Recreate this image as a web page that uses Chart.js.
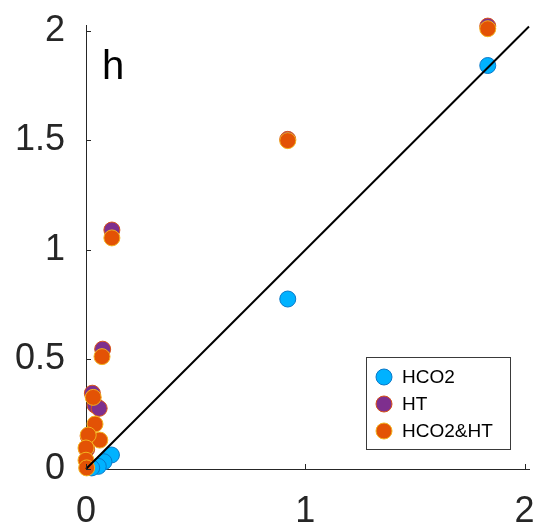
<!DOCTYPE html>
<html>
<head>
<meta charset="utf-8">
<script src="https://cdn.jsdelivr.net/npm/chart.js@4"></script>
<style>
  html, body { margin: 0; padding: 0; background: #fff; }
  #wrap { width: 538px; height: 527px; }
</style>
</head>
<body>
<div id="wrap"><canvas id="c" width="538" height="527"></canvas></div>
<script>
const HCO2_X = [1.832, 0.92, 0.116, 0.082, 0.056, 0.026];
const HCO2_Y = [1.842, 0.776, 0.064, 0.033, 0.012, 0.005];

const HT_X = [1.832, 0.92, 0.118, 0.076, 0.029, 0.041, 0.06, 0.01, 0.003];
const HT_Y = [2.022, 1.505, 1.091, 0.547, 0.346, 0.292, 0.277, 0.15, 0.09];

const BOTH_X = [1.832, 0.92, 0.118, 0.073, 0.033, 0.041, 0.063, 0.01, 0.0, 0.0, 0.003];
const BOTH_Y = [2.01, 1.499, 1.055, 0.513, 0.327, 0.205, 0.132, 0.155, 0.096, 0.04, 0.005];

const DIAG = [0, 2.02];
const X_MAX = 2.02, Y_MAX = 2.027;
const X_TICKS = [0, 1, 2];
const Y_TICKS = [0, 0.5, 1, 1.5, 2];

const pts = (xs, ys) => xs.map((x, i) => ({ x: x, y: ys[i] }));
const INK = '#262626';
const FONT = '"Liberation Sans", Arial, sans-serif';

// MATLAB-style inward ticks, panel letter and boxed legend
const extras = {
    id: 'extras',
    afterDraw(chart) {
        const ctx = chart.ctx, a = chart.chartArea;
        const xs = chart.scales.x, ys = chart.scales.y;
        ctx.save();
        ctx.strokeStyle = INK;
        ctx.lineWidth = 1;
        ctx.beginPath();
        xs.ticks.forEach(t => {
            const px = Math.round(xs.getPixelForValue(t.value)) + 0.5;
            ctx.moveTo(px, a.bottom); ctx.lineTo(px, a.bottom - 5);
        });
        ys.ticks.forEach(t => {
            const py = Math.round(ys.getPixelForValue(t.value)) + 0.5;
            ctx.moveTo(a.left, py); ctx.lineTo(a.left + 5, py);
        });
        ctx.stroke();

        ctx.fillStyle = '#000';
        ctx.font = '40px ' + FONT;
        ctx.textBaseline = 'alphabetic';
        ctx.fillText('h', 102, 79);

        // legend
        const bx = 366.5, by = 357.5, bw = 144, bh = 92;
        ctx.fillStyle = '#fff';
        ctx.fillRect(bx, by, bw, bh);
        ctx.strokeStyle = '#3a3a3a';
        ctx.strokeRect(bx, by, bw, bh);
        ctx.font = '19px ' + FONT;
        ctx.textBaseline = 'middle';
        chart.data.datasets.filter(d => d.label).forEach((d, i) => {
            const cy = 377 + i * 27;
            ctx.beginPath();
            ctx.arc(384, cy, 8, 0, Math.PI * 2);
            ctx.fillStyle = d.backgroundColor;
            ctx.fill();
            ctx.lineWidth = 1;
            ctx.strokeStyle = d.borderColor;
            ctx.stroke();
            ctx.fillStyle = '#000';
            ctx.fillText(d.label, 402, cy + 1);
        });
        ctx.restore();
    }
};

new Chart(document.getElementById('c'), {
    type: 'scatter',
    data: {
        datasets: [
            {
                label: 'HCO2',
                data: pts(HCO2_X, HCO2_Y),
                backgroundColor: '#00B2FF',
                borderColor: '#0a78c8',
                borderWidth: 1,
                pointRadius: 8,
                order: 3,
                clip: false
            },
            {
                label: 'HT',
                data: pts(HT_X, HT_Y),
                backgroundColor: '#7E2F8E',
                borderColor: '#D95319',
                borderWidth: 1,
                pointRadius: 8,
                order: 2,
                clip: false
            },
            {
                label: 'HCO2&HT',
                data: pts(BOTH_X, BOTH_Y),
                backgroundColor: '#E35205',
                borderColor: '#F2B220',
                borderWidth: 1,
                pointRadius: 8,
                order: 1,
                clip: false
            },
            {
                type: 'line',
                data: pts(DIAG, DIAG),
                borderColor: '#000',
                borderWidth: 2,
                pointRadius: 0,
                order: 0,
                clip: false
            }
        ]
    },
    options: {
        responsive: false,
        animation: false,
        layout: { padding: { top: 25, right: 6, left: 0, bottom: 0 } },
        plugins: { legend: { display: false }, tooltip: { enabled: false } },
        scales: {
            x: {
                type: 'linear',
                min: 0, max: X_MAX,
                afterBuildTicks: s => { s.ticks = X_TICKS.map(v => ({ value: v })); },
                afterFit: s => { s.height = 58; s.paddingLeft = 0; s.paddingRight = 0; },
                grid: { display: false },
                border: { display: true, color: INK, width: 1 },
                ticks: { color: INK, padding: 13, maxRotation: 0,
                         callback: v => String(v),
                         font: { size: 36, family: FONT } }
            },
            y: {
                type: 'linear',
                min: 0, max: Y_MAX,
                afterBuildTicks: s => { s.ticks = Y_TICKS.map(v => ({ value: v })); },
                afterFit: s => { s.width = 86; s.paddingTop = 0; s.paddingBottom = 0; },
                grid: { display: false },
                border: { display: true, color: INK, width: 1 },
                ticks: { color: INK, padding: 13,
                         callback: v => String(v),
                         font: { size: 36, family: FONT } }
            }
        }
    },
    plugins: [extras]
});
</script>
</body>
</html>
